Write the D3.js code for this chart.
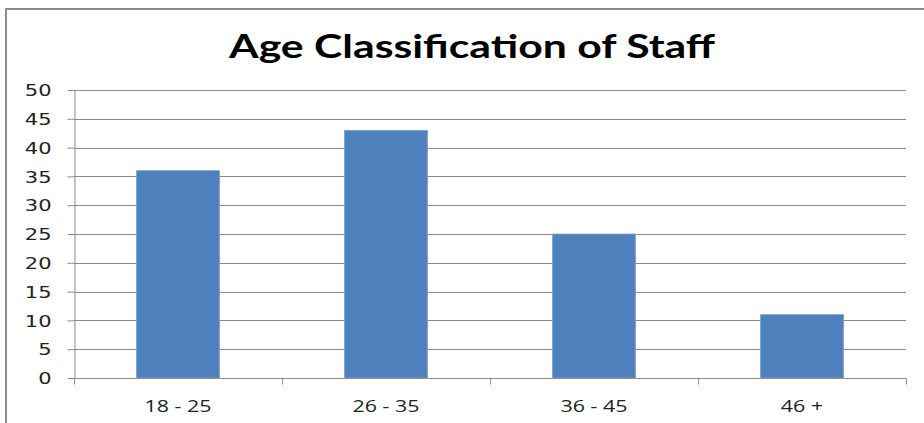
<!DOCTYPE html>
<html><head><meta charset="utf-8">
<script src="https://cdn.jsdelivr.net/npm/d3@7"></script>
<style>body{margin:0;background:#fff}svg{display:block}</style>
</head><body>
<svg id="c" width="924" height="423"></svg>
<script>
const categories = ["18 - 25", "26 - 35", "36 - 45", "46 +"];
const values = [36, 43, 25, 11];
const yTicks = [0, 5, 10, 15, 20, 25, 30, 35, 40, 45, 50];
const title = "Age Classification of Staff";

const svg = d3.select("#c");
const m = {left: 74, right: 906, top: 90, bottom: 378};

svg.append("rect").attr("x", 6).attr("y", 9).attr("width", 940).attr("height", 440)
  .attr("fill", "#fff").attr("stroke", "#8c8c8c").attr("stroke-width", 2);

svg.append("text").attr("x", 472).attr("y", 58).attr("text-anchor", "middle")
  .attr("font-family", "Lato, 'Open Sans', sans-serif").attr("font-weight", "bold")
  .attr("font-size", 33).attr("fill", "#000")
  .attr("textLength", 486).attr("lengthAdjust", "spacingAndGlyphs")
  .text(title);

const y = d3.scaleLinear().domain([0, 50]).range([m.bottom, m.top]);
const x = d3.scaleBand().domain(categories).range([m.left, m.right]).paddingInner(0.6).paddingOuter(0.3);

// gridlines
svg.append("g").selectAll("line").data(yTicks.filter(d => d > 0)).join("line")
  .attr("x1", m.left).attr("x2", m.right)
  .attr("y1", d => Math.round(y(d)) + 0.5).attr("y2", d => Math.round(y(d)) + 0.5)
  .attr("stroke", "#8a8a8a").attr("stroke-width", 1);

// bars
svg.append("g").selectAll("rect").data(values).join("rect")
  .attr("x", (d, i) => x(categories[i])).attr("width", x.bandwidth())
  .attr("y", d => y(d)).attr("height", d => y(0) - y(d))
  .attr("fill", "#4f81bd").attr("stroke", "#7ea3d3").attr("stroke-width", 0.8);

// y axis
const ya = svg.append("g").attr("transform", `translate(${m.left + 0.5},0)`)
  .call(d3.axisLeft(y).tickValues(yTicks).tickSize(7).tickPadding(16).tickSizeOuter(0));
ya.select(".domain").attr("stroke", "#8a8a8a");
ya.selectAll(".tick line").attr("stroke", "#8a8a8a");
ya.selectAll("text").attr("font-family", "'DejaVu Sans', Verdana, sans-serif").attr("font-size", 15)
  .attr("fill", "#222").attr("dy", "0.38em")
  .each(function() { const w = this.getComputedTextLength(); d3.select(this).attr("textLength", w * 1.4).attr("lengthAdjust", "spacingAndGlyphs"); });

// x axis
const xb = d3.scalePoint().domain(d3.range(categories.length + 1)).range([m.left, m.right]);
const xa = svg.append("g").attr("transform", `translate(0,${Math.round(y(0)) + 0.5})`);
xa.append("line").attr("x1", m.left).attr("x2", m.right).attr("stroke", "#8a8a8a");
xa.selectAll("line.t").data(xb.domain()).join("line").attr("class", "t")
  .attr("x1", d => Math.round(xb(d)) + 0.5).attr("x2", d => Math.round(xb(d)) + 0.5)
  .attr("y1", 0).attr("y2", 6).attr("stroke", "#8a8a8a");
const xt = xa.selectAll("text").data(categories).join("text")
  .attr("x", d => x(d) + x.bandwidth() / 2).attr("y", 33).attr("text-anchor", "middle")
  .attr("font-family", "'Open Sans', sans-serif").attr("font-size", 17).attr("fill", "#222")
  .text(d => d);
const ref = xt.nodes()[0].getComputedTextLength();
const f = 67 / ref;
xt.each(function() { const w = this.getComputedTextLength(); d3.select(this).attr("textLength", w * f).attr("lengthAdjust", "spacingAndGlyphs"); });
</script>
</body></html>
